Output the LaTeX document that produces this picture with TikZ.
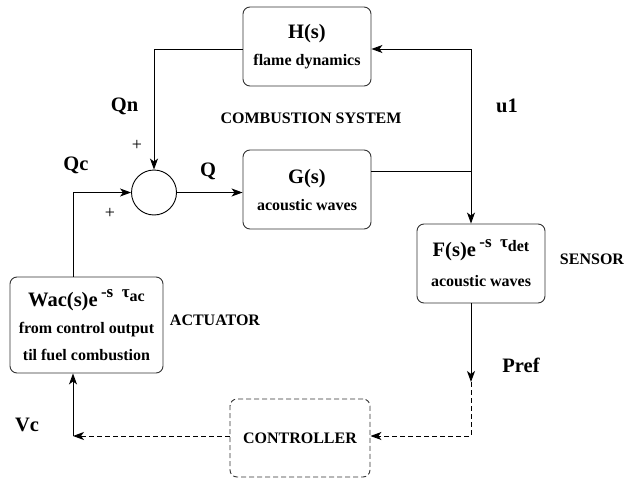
\documentclass[tikz,border=0pt]{standalone}
\usepackage{fontspec}
\setmainfont{Liberation Serif}
\usetikzlibrary{arrows.meta}

\newcommand{\bigtxt}{\fontsize{20.5}{27}\selectfont\bfseries}
\newcommand{\smltxt}{\fontsize{16}{27}\selectfont\bfseries}
\newcommand{\delay}[1]{\,\raisebox{9pt}{\fontsize{17}{17}\selectfont -s\ \ τ\raisebox{-4pt}{\fontsize{16}{16}\selectfont #1}}}

\begin{document}
\begin{tikzpicture}[x=1pt,y=-1pt,
    blk/.style={draw=black!80, rounded corners=7pt, line width=0.9pt, align=center, inner sep=0pt, font=\smltxt},
    sig/.style={line width=0.9pt, -{Stealth[length=11pt,width=8pt,inset=3pt]}},
    dsig/.style={sig, dash pattern=on 5pt off 3pt},
    lbl/.style={font=\bigtxt, inner sep=0pt},
    txt/.style={font=\smltxt, inner sep=0pt},
    pls/.style={font=\fontsize{18}{18}\selectfont, inner sep=0pt}]
    \useasboundingbox (0,0) rectangle (624,479);
    % blocks
    \node[blk, minimum width=128pt, minimum height=79pt] (H) at (307,46.5) {\bigtxt H(s)\\ flame dynamics};
    \node[blk, minimum width=128pt, minimum height=79pt] (G) at (307,189.5) {\bigtxt G(s)\\ acoustic waves};
    \node[blk, minimum width=128pt, minimum height=79pt] (F) at (481,263.5) {\bigtxt F(s)e\delay{det}\\[3pt] acoustic waves};
    \node[blk, minimum width=153pt, minimum height=96pt] (act) at (86.5,325) {\bigtxt Wac(s)e\delay{ac}\\ from control output\\ til fuel combustion};
    \node[blk, dash pattern=on 5pt off 3pt, minimum width=140pt, minimum height=78pt] (ctrl) at (300,438) {CONTROLLER};
    \node[draw, circle, line width=0.9pt, minimum size=45pt, inner sep=0pt] (sum) at (154,192.5) {};
    % corners
    \coordinate (top) at (471,49);
    \coordinate (tap) at (471,171);
    \coordinate (pr) at (471,382);
    \coordinate (vc) at (73,436);
    % signals
    \draw[line width=0.9pt] (G.east |- tap) -- (tap);
    \draw[sig] (top) -- (H.east |- top);
    \draw[sig] (top) -- (F.north -| top);
    \draw[sig] (H.west |- top) -| (sum.north);
    \draw[sig] (sum.east) -- (G.west |- sum);
    \draw[sig] (act.north -| vc) |- (sum.west);
    \draw[sig] (F.south -| pr) -- (pr);
    \draw[dsig] (pr) |- (ctrl.east |- vc);
    \draw[dsig] (ctrl.west |- vc) -- (vc);
    \draw[sig] (vc) -- (act.south -| vc);
    % labels
    \node[lbl] (qn) at (124.5,106) {Qn};
    \node[pls] (p1) at (137,145) {+};
    \node[lbl] (qc) at (76,165) {Qc};
    \node[lbl] (q) at (208,171) {Q};
    \node[pls] (p2) at (110,213) {+};
    \node[txt] (cs) at (311,118.5) {COMBUSTION SYSTEM};
    \node[lbl] (u1) at (507,106) {u1};
    \node[txt] (sensor) at (592,259) {SENSOR};
    \node[txt] (actr) at (215,320) {ACTUATOR};
    \node[lbl] (pref) at (521,365) {Pref};
    \node[lbl] (vcl) at (27,425) {Vc};
\end{tikzpicture}
\end{document}
